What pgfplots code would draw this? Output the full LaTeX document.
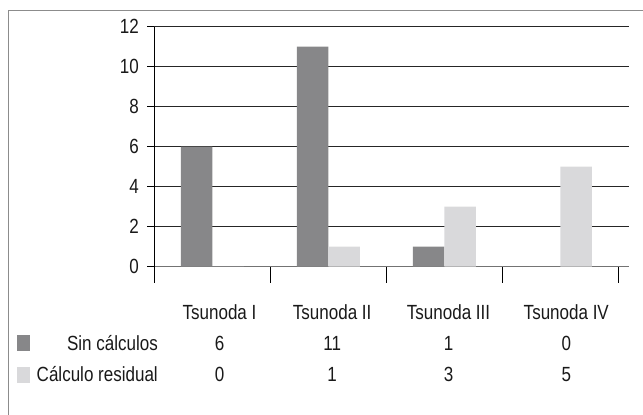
\documentclass[border=0pt]{standalone}
\usepackage{fontspec}
\setmainfont[FakeStretch=0.83]{Liberation Sans}
\usepackage{pgfplots}
\pgfplotsset{compat=1.18}
\definecolor{sincalc}{RGB}{135,135,137}
\definecolor{residual}{RGB}{217,217,219}
\newcommand{\tfont}{\fontsize{20.5}{24}\selectfont}
\begin{document}
\begin{tikzpicture}[x=1pt,y=1pt]
  \useasboundingbox (0,0) rectangle (643,415);
  \clip (0,0) rectangle (643,415);
  % outer chart frame
  \draw[black!45, line width=1.4pt] (8.3,-20) -- (8.3,404.5) -- (700,404.5);
  \begin{axis}[
      at={(154.3pt,148.3pt)}, anchor=south west,
      scale only axis, width=474.7pt, height=240pt,
      xmin=-0.5, xmax=3.592, ymin=0, ymax=12,
      ytick={0,2,...,12},
      xtick=\empty,
      extra x ticks={-0.5,0.5,1.5,2.5,3.5},
      extra x tick labels={},
      extra x tick style={major tick length=16pt, grid=none, tick style={black, line width=1pt}},
      axis x line=bottom, axis y line=left,
      x axis line style={-, black!55, line width=1.4pt},
      y axis line style={-, black, line width=1pt},
      tick align=outside, major tick length=7pt,
      ytick style={black, line width=1pt},
      ymajorgrids, grid style={black!85, line width=1.2pt},
      ticklabel style={font=\tfont, text=black!90},
      /pgf/number format/assume math mode=true,
      yticklabel style={xshift=-5pt},
      ybar, bar width=31.5pt,
      clip=false,
    ]
    \addplot[fill=sincalc, draw=none, bar shift=-15.75pt]
      coordinates {(0,6) (1,11) (2,1) (3,0)};
    \addplot[fill=residual, draw=none, bar shift=15.75pt]
      coordinates {(0,0) (1,1) (2,3) (3,5)};
  \end{axis}
  % data table beneath the chart
  \foreach \x/\name/\a/\b in {219.5/Tsunoda I/6/0, 332.2/Tsunoda II/11/1, 448.5/Tsunoda III/1/3, 566.3/Tsunoda IV/0/5} {
    \node[font=\tfont, text=black!90, anchor=base, inner sep=0pt] at (\x,415-320) {\name};
    \node[font=\tfont, text=black!90, anchor=base, inner sep=0pt] at (\x,415-350.5) {\a};
    \node[font=\tfont, text=black!90, anchor=base, inner sep=0pt] at (\x,415-381.5) {\b};
  }
  % legend keys of the data table
  \fill[sincalc] (17.3,415-350.7) rectangle (30,415-335);
  \fill[residual] (17.3,415-383) rectangle (30,415-366.7);
  \node[font=\tfont, text=black!90, anchor=base east, inner sep=0pt] at (158,415-350.5) {Sin cálculos};
  \node[font=\tfont, text=black!90, anchor=base east, inner sep=0pt] at (158,415-381.5) {Cálculo residual};
\end{tikzpicture}
\end{document}
